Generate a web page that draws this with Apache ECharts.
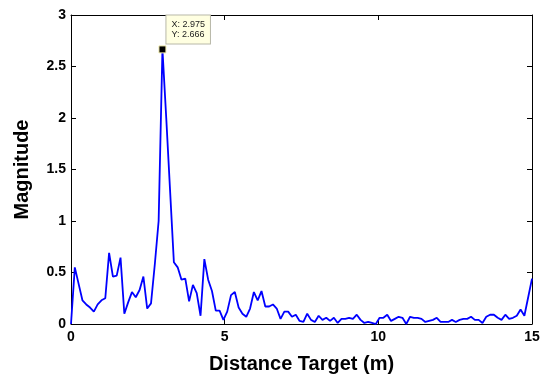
<!DOCTYPE html>
<html>
<head>
<meta charset="utf-8">
<script src="https://cdn.jsdelivr.net/npm/echarts@6/dist/echarts.min.js"></script>
<style>
  html, body { margin: 0; padding: 0; background: #fff; }
  #chart { width: 545px; height: 379px; }
</style>
</head>
<body>
<div id="chart"></div>
<script>
// Range-profile magnitude, sampled uniformly from 0 to 15 m (121 intervals)
const rangeMax = 15;
const sampleIntervals = 121;
const magnitude = [
  0, 0.55, 0.39, 0.23, 0.19, 0.16, 0.12, 0.19, 0.23, 0.25,
  0.69, 0.46, 0.47, 0.645, 0.10, 0.21, 0.31, 0.26, 0.33, 0.46,
  0.15, 0.20, 0.58, 1.0, 2.666, 2.0, 1.3, 0.60, 0.55, 0.43,
  0.44, 0.22, 0.38, 0.30, 0.08, 0.63, 0.43, 0.32, 0.13, 0.13,
  0.04, 0.12, 0.28, 0.31, 0.16, 0.10, 0.07, 0.15, 0.31, 0.23,
  0.32, 0.17, 0.17, 0.19, 0.15, 0.05, 0.12, 0.12, 0.07, 0.09,
  0.03, 0.02, 0.10, 0.04, 0.02, 0.08, 0.04, 0.06, 0.03, 0.06,
  0.01, 0.05, 0.05, 0.06, 0.05, 0.09, 0.04, 0.01, 0.02, 0.01,
  0.00, 0.06, 0.06, 0.09, 0.03, 0.05, 0.07, 0.06, 0.00, 0.07,
  0.06, 0.06, 0.05, 0.02, 0.03, 0.04, 0.06, 0.02, 0.02, 0.02,
  0.04, 0.02, 0.04, 0.05, 0.05, 0.07, 0.04, 0.04, 0.01, 0.07,
  0.09, 0.09, 0.06, 0.04, 0.09, 0.05, 0.06, 0.08, 0.14, 0.08,
  0.26, 0.44
];
const xTicks = [0, 5, 10, 15];
const yTicks = [0, 0.5, 1, 1.5, 2, 2.5, 3];
const xTitle = 'Distance Target (m)';
const yTitle = 'Magnitude';

const distance = magnitude.map((_, i) => i * rangeMax / sampleIntervals);
const seriesData = magnitude.map((v, i) => [distance[i], v]);
let peakIdx = 0;
magnitude.forEach((v, i) => { if (v > magnitude[peakIdx]) peakIdx = i; });

const FONT = "'Liberation Sans', Arial, sans-serif";
const axisCommon = {
  axisLine: { show: true, onZero: false, lineStyle: { color: '#000', width: 1 } },
  axisTick: { show: true, inside: true, length: 5, lineStyle: { color: '#000', width: 1 } },
  splitLine: { show: false }
};

const chart = echarts.init(document.getElementById('chart'), null, { renderer: 'canvas' });
chart.setOption({
  animation: false,
  backgroundColor: '#fff',
  grid: { left: 71, right: 13, top: 15, bottom: 54.5, containLabel: false },
  xAxis: [
    Object.assign({
      type: 'value', position: 'bottom',
      min: xTicks[0], max: xTicks[xTicks.length - 1], interval: xTicks[1] - xTicks[0],
      axisLabel: { color: '#000', fontFamily: FONT, fontWeight: 'bold', fontSize: 14, margin: 6 },
      name: xTitle, nameLocation: 'middle', nameGap: 30,
      nameTextStyle: { color: '#000', fontFamily: FONT, fontWeight: 'bold', fontSize: 20 }
    }, axisCommon),
    Object.assign({
      type: 'value', position: 'top',
      min: xTicks[0], max: xTicks[xTicks.length - 1], interval: xTicks[1] - xTicks[0],
      axisLabel: { show: false }
    }, axisCommon)
  ],
  yAxis: [
    Object.assign({
      type: 'value', position: 'left',
      min: yTicks[0], max: yTicks[yTicks.length - 1], interval: yTicks[1] - yTicks[0],
      axisLabel: { color: '#000', fontFamily: FONT, fontWeight: 'bold', fontSize: 14, margin: 5 },
      name: yTitle, nameLocation: 'middle', nameGap: 39,
      nameTextStyle: { color: '#000', fontFamily: FONT, fontWeight: 'bold', fontSize: 20 }
    }, axisCommon),
    Object.assign({
      type: 'value', position: 'right',
      min: yTicks[0], max: yTicks[yTicks.length - 1], interval: yTicks[1] - yTicks[0],
      axisLabel: { show: false }
    }, axisCommon)
  ],
  series: [{
    type: 'line',
    xAxisIndex: 0, yAxisIndex: 0,
    data: seriesData,
    showSymbol: false,
    symbol: 'none',
    lineStyle: { color: '#0000ff', width: 1.8 },
    markPoint: {
      silent: true,
      data: [{
        coord: [distance[peakIdx], magnitude[peakIdx]],
        symbol: 'rect', symbolSize: 7,
        itemStyle: { color: '#000', borderColor: '#f5f0b0', borderWidth: 1 },
        label: {
          show: true,
          position: [8, -30],
          align: 'left', verticalAlign: 'top',
          formatter: 'X: ' + distance[peakIdx].toFixed(3) + '\nY: ' + magnitude[peakIdx].toFixed(3),
          fontFamily: FONT, fontSize: 9, lineHeight: 10, color: '#222',
          backgroundColor: '#ffffe1', borderColor: '#b8b8a8', borderWidth: 1,
          padding: [4, 5, 4, 5]
        }
      }]
    }
  }]
});
</script>
</body>
</html>
